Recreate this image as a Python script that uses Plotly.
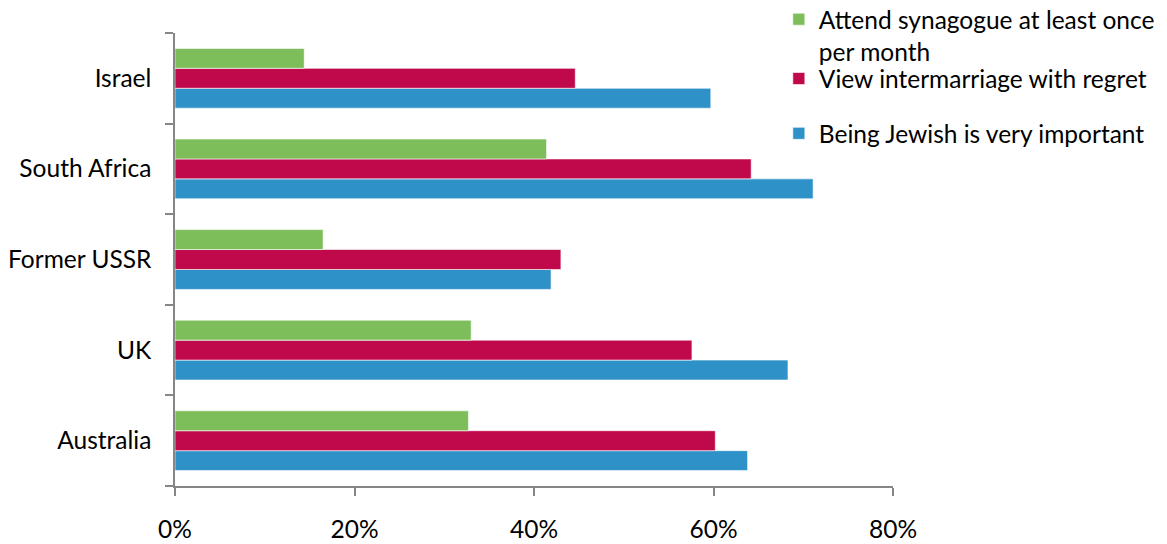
import plotly.graph_objects as go

countries = ["Australia", "UK", "Former USSR", "South Africa", "Israel"]
jewish_important = [63.8, 68.3, 41.9, 71.1, 59.7]
intermarriage_regret = [60.2, 57.6, 43.0, 64.2, 44.6]
synagogue_monthly = [32.7, 33.0, 16.5, 41.4, 14.4]

x_ticks = [0, 20, 40, 60, 80]
x_tick_labels = ["0%", "20%", "40%", "60%", "80%"]

# (name, values, colour, legend id)
series = [
    ("Being Jewish is very important", jewish_important, "#2E91C8", "legend3"),
    ("View intermarriage with regret", intermarriage_regret, "#C0094A", "legend2"),
    ("Attend synagogue at least once<br>per month", synagogue_monthly, "#7DBE5B", "legend"),
]

FONT = "Lato"
FS = 24.5

fig = go.Figure()
for name, vals, col, leg in series:
    fig.add_trace(go.Bar(
        y=countries, x=vals, name=name, orientation="h",
        marker=dict(color=col, line=dict(color="rgba(255,255,255,0.6)", width=1)),
        legend=leg, showlegend=True,
    ))


def legend_style(ypos):
    return dict(
        x=0.841, y=ypos, xanchor="left", yanchor="top", valign="top",
        font=dict(family=FONT, size=FS, color="#000000"),
        bgcolor="rgba(0,0,0,0)",
    )


# the page body adds an 8px margin, so the figure is 8px smaller each way
fig.update_layout(
    showlegend=True,
    barmode="group",
    bargap=0.34,
    bargroupgap=0,
    width=1159, height=536,
    margin=dict(l=167, r=274, t=25, b=58, autoexpand=False),
    plot_bgcolor="white", paper_bgcolor="white",
    font=dict(family=FONT, size=FS, color="#000000"),
    legend=legend_style(1.08),
    legend2=legend_style(0.949),
    legend3=legend_style(0.828),
    xaxis=dict(
        range=[0, 80], tickvals=x_ticks, ticktext=x_tick_labels,
        showgrid=False, zeroline=False, showline=True, linecolor="#868686", linewidth=1.5,
        ticks="outside", ticklen=8, tickcolor="#868686", tickwidth=1.5,
        ticklabelstandoff=13, automargin=False,
        tickfont=dict(family=FONT, size=FS),
    ),
    yaxis=dict(
        showgrid=False, showline=True, linecolor="#868686", linewidth=1.5,
        ticks="outside", ticklen=8, tickcolor="#868686", tickwidth=1.5,
        tickson="boundaries", ticklabelstandoff=17, automargin=False,
        tickfont=dict(family=FONT, size=FS),
    ),
)

fig.write_html("out.html")
